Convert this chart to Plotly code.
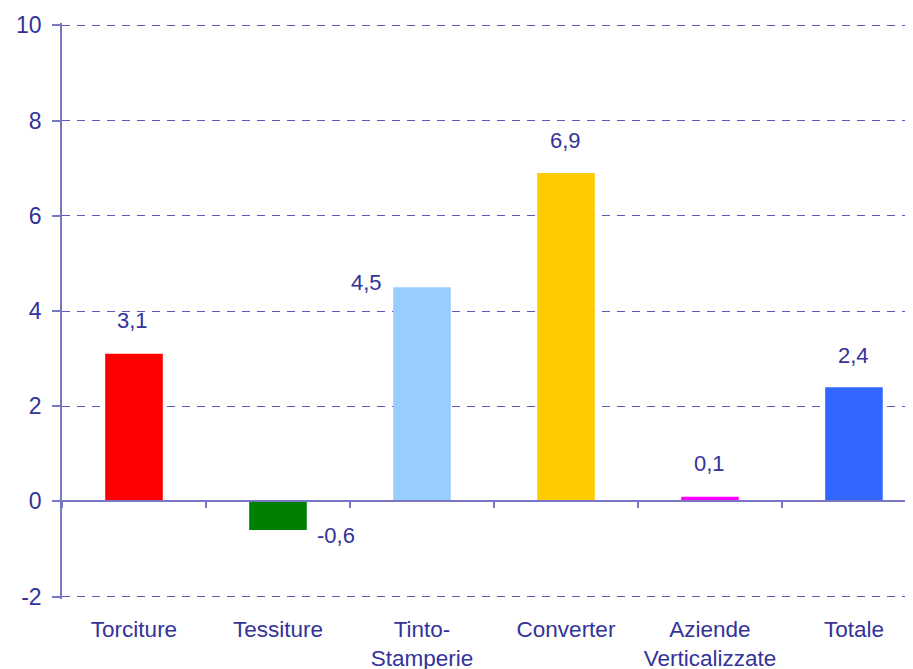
import plotly.graph_objects as go

# Data
categories = ['Torciture', 'Tessiture', 'Tinto-<br>Stamperie', 'Converter',
              'Aziende<br>Verticalizzate', 'Totale']
values = [3.1, -0.6, 4.5, 6.9, 0.1, 2.4]
bar_colors = ['#FF0000', '#008000', '#99CCFF', '#FFCC00', '#FF00FF', '#3366FF']
y_ticks = [-2, 0, 2, 4, 6, 8, 10]
y_ticktext = ['-2', '0', '2', '4', '6', '8', '10']

# label placement (pixel offsets from the bar end)
label_shift = {0: (-2, 33), 1: (58, -6), 2: (-55, 5), 3: (0, 32), 4: (0, 33), 5: (0, 32)}

txt = '#333399'
grid = '#5a5ab8'
axis = '#7777c4'
font = 'Liberation Sans, Arial, sans-serif'

idx = list(range(len(categories)))
y_range = [-2.05, 10.05]
zero_pos = (0 - y_range[0]) / (y_range[1] - y_range[0])

fig = go.Figure()
fig.add_trace(go.Bar(x=idx, y=values, marker_color=bar_colors, width=0.4,
                     marker_line_width=0, hoverinfo='skip'))
# invisible helper trace so the label axis gets drawn
fig.add_trace(go.Scatter(x=idx, y=values, xaxis='x2', mode='markers',
                         marker=dict(opacity=0), hoverinfo='skip'))

for i, v in enumerate(values):
    dx, dy = label_shift[i]
    fig.add_annotation(x=i, y=v, text=f'{v:.1f}'.replace('.', ','), showarrow=False,
                       xshift=dx, yshift=dy, font=dict(size=22, color=txt, family=font))

# page body has an 8px margin, so the figure is shifted by 8px
fig.update_layout(
    width=913, height=669,
    margin=dict(l=54, r=8, t=15, b=78),
    paper_bgcolor='white', plot_bgcolor='white',
    showlegend=False,
    font=dict(family=font, size=22, color=txt),
    # axis that draws the zero line with the category separators
    xaxis=dict(range=[-0.5, 5.41], anchor='free', position=zero_pos, automargin=False,
               showline=True, linecolor=axis, linewidth=1.5,
               ticks='outside', ticklen=6, tickcolor=axis, tickwidth=1.5,
               tickvals=[-0.5, 0.5, 1.5, 2.5, 3.5, 4.5],
               showticklabels=False, showgrid=False, zeroline=False),
    # axis that carries the category labels at the bottom
    xaxis2=dict(overlaying='x', matches='x', anchor='y', side='bottom', automargin=False,
                tickvals=idx, ticktext=categories, ticks='', showline=False,
                showgrid=False, zeroline=False, ticklabelstandoff=14,
                tickfont=dict(size=22.5, color=txt)),
    yaxis=dict(range=y_range, tickvals=y_ticks, ticktext=y_ticktext,
               automargin=False, showline=True, linecolor=axis,
               linewidth=1.5, ticks='outside', ticklen=8, tickcolor=axis,
               tickwidth=1.5, showgrid=True, gridcolor=grid, gridwidth=1,
               griddash='8px,7px', zeroline=False, ticklabelstandoff=6,
               tickfont=dict(size=23, color=txt)),
)

fig.write_html('out.html')
